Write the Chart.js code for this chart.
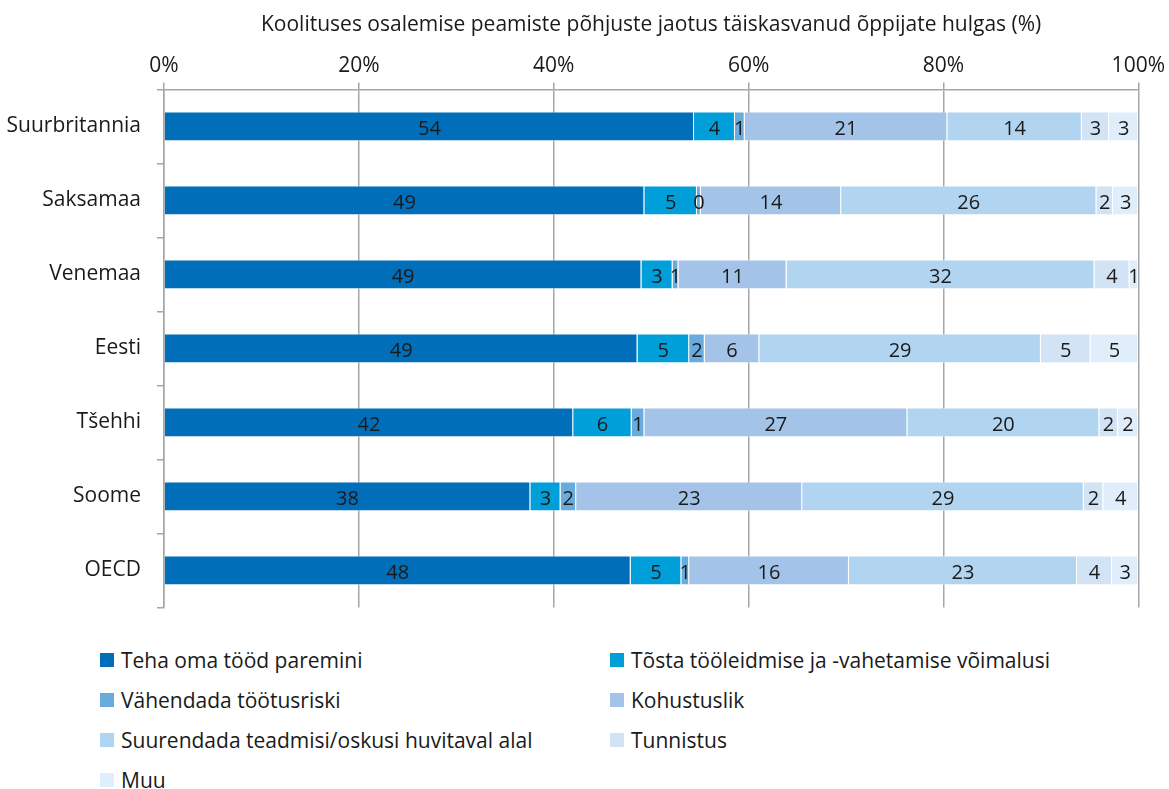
<!DOCTYPE html>
<html lang="et">
<head>
<meta charset="utf-8">
<title>Koolituses osalemise peamised põhjused</title>
<script src="https://cdn.jsdelivr.net/npm/chart.js@4.4.1/dist/chart.umd.min.js"></script>
<style>
  html, body { margin: 0; padding: 0; background: #fff; }
  body { width: 1169px; height: 789px; overflow: hidden; font-family: "Open Sans", sans-serif; color: #1a1a1a; }
  #wrap { position: relative; width: 1169px; height: 636px; }
  #legend {
    display: grid;
    grid-template-columns: 510px 520px;
    margin-left: 100px;
    margin-top: 10px;
    row-gap: 12px;
    font-size: 21px;
    line-height: 28px;
  }
  .item { display: flex; align-items: center; height: 28px; white-space: nowrap; }
  .box { width: 14px; height: 14px; margin-right: 7px; flex: none; }
</style>
</head>
<body>
<div id="wrap"><canvas id="chart"></canvas></div>
<div id="legend"></div>
<script>
const countries = ["Suurbritannia", "Saksamaa", "Venemaa", "Eesti", "Tšehhi", "Soome", "OECD"];

const reasons = [
  "Teha oma tööd paremini",
  "Tõsta tööleidmise ja -vahetamise võimalusi",
  "Vähendada töötusriski",
  "Kohustuslik",
  "Suurendada teadmisi/oskusi huvitaval alal",
  "Tunnistus",
  "Muu"
];

const workBetter = [54.4, 49.3, 49.0, 48.6, 42.0, 37.6, 47.9];
const jobChances = [4.2, 5.4, 3.2, 5.3, 6.0, 3.1, 5.2];
const lessRisk = [1.0, 0.4, 0.6, 1.6, 1.3, 1.6, 0.8];
const mandatory = [20.8, 14.4, 11.1, 5.6, 27.0, 23.2, 16.4];
const interest = [13.8, 26.2, 31.6, 28.9, 19.7, 28.9, 23.4];
const certificate = [2.8, 1.7, 3.6, 5.1, 1.9, 2.0, 3.6];
const other = [3.0, 2.6, 0.9, 4.9, 2.1, 3.6, 2.7];

const xTicks = [0, 20, 40, 60, 80, 100];

const colors = ["#006eb8", "#009fda", "#6aabdd", "#a3c4e8", "#b1d4f0", "#d1e3f5", "#e0edfa"];

const series = [workBetter, jobChances, lessRisk, mandatory, interest, certificate, other];

const FONT = "'Open Sans', sans-serif";
const INK = "#1a1a1a";
const GRID = "#a6a6a6";

// rounded value written in the middle of every segment
const segmentLabels = {
  id: "segmentLabels",
  afterDatasetsDraw(chart) {
    const ctx = chart.ctx;
    ctx.save();
    ctx.font = "20px " + FONT;
    ctx.fillStyle = INK;
    ctx.textAlign = "center";
    ctx.textBaseline = "middle";
    chart.data.datasets.forEach((ds, i) => {
      const meta = chart.getDatasetMeta(i);
      meta.data.forEach((bar, j) => {
        const cx = (bar.x + bar.base) / 2;
        ctx.fillText(String(Math.round(ds.data[j])), cx, bar.y + 3);
      });
    });
    ctx.restore();
  }
};

const chart = new Chart(document.getElementById("chart"), {
  type: "bar",
  data: {
    labels: countries,
    datasets: series.map((data, i) => ({
      label: reasons[i],
      data,
      backgroundColor: colors[i],
      borderColor: "rgba(255,255,255,0.55)",
      borderWidth: 1,
      categoryPercentage: 1,
      barPercentage: 0.4
    }))
  },
  options: {
    indexAxis: "y",
    responsive: true,
    maintainAspectRatio: false,
    animation: false,
    layout: { padding: { left: 0, right: 24, top: 12, bottom: 0 } },
    plugins: {
      legend: { display: false },
      tooltip: { enabled: false }
    },
    scales: {
      x: {
        position: "top",
        stacked: true,
        min: 0,
        max: 100,
        afterBuildTicks: (axis) => { axis.ticks = xTicks.map((v) => ({ value: v })); },
        ticks: {
          callback: (v) => v + "%",
          color: INK,
          font: { family: FONT, size: 21 },
          padding: 4,
          maxRotation: 0
        },
        grid: { color: GRID, lineWidth: 1.5, tickLength: 7, drawTicks: true },
        border: { color: GRID, width: 1.5 },
        title: {
          display: true,
          text: "Koolituses osalemise peamiste põhjuste jaotus täiskasvanud õppijate hulgas (%)",
          color: INK,
          font: { family: FONT, size: 21 },
          padding: { top: 0, bottom: 12 }
        }
      },
      y: {
        stacked: true,
        afterFit: (axis) => { axis.width = 164; },
        ticks: {
          color: INK,
          font: { family: FONT, size: 21 },
          padding: 16
        },
        grid: { offset: true, drawOnChartArea: false, color: GRID, lineWidth: 1.5, tickLength: 7 },
        border: { color: GRID, width: 1.5 }
      }
    }
  },
  plugins: [segmentLabels]
});

// two-column legend below the chart, built from the datasets
const legendEl = document.getElementById("legend");
chart.data.datasets.forEach((ds) => {
  const item = document.createElement("div");
  item.className = "item";
  const box = document.createElement("span");
  box.className = "box";
  box.style.background = ds.backgroundColor;
  const txt = document.createElement("span");
  txt.textContent = ds.label;
  item.appendChild(box);
  item.appendChild(txt);
  legendEl.appendChild(item);
});
</script>
</body>
</html>
